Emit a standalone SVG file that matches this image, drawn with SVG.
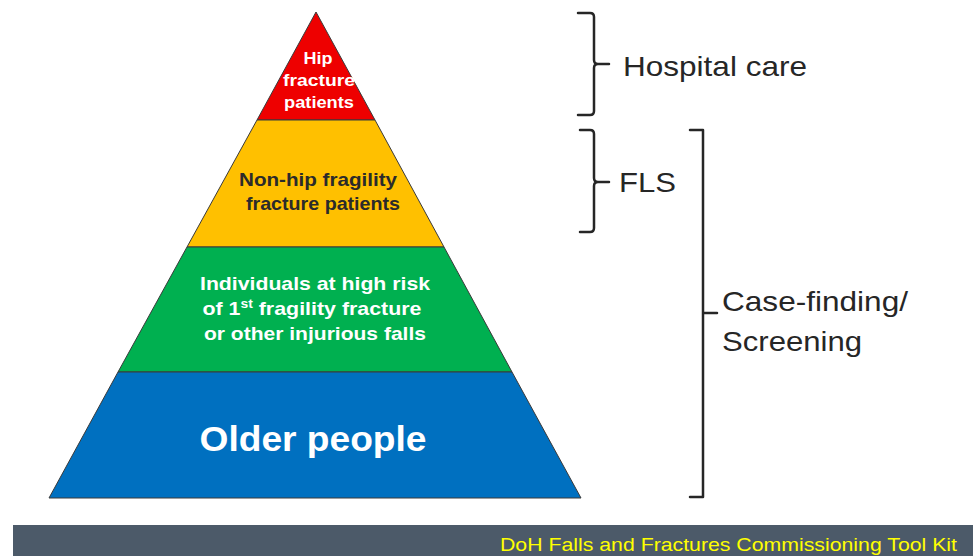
<svg xmlns="http://www.w3.org/2000/svg" width="973" height="556" viewBox="0 0 973 556">
<style>
.tier{stroke:#3a3a3a;stroke-width:1}
.lbl{font-family:"Liberation Sans",Arial,sans-serif;font-weight:bold;text-anchor:middle}
.w{fill:#ffffff}
.d{fill:#2b2b2b}
.br{fill:none;stroke:#262626;stroke-width:2.5;stroke-linejoin:round;stroke-linecap:round}
.side{font-family:"Liberation Sans",Arial,sans-serif;font-size:28px;fill:#262626}
</style>
<rect width="973" height="556" fill="#ffffff"/>
<g id="tier-hip">
<polygon class="tier" points="316,12 375,120 257,120" fill="#ee0000"/>
<text class="lbl w" font-size="17" x="318" y="64" textLength="29" lengthAdjust="spacingAndGlyphs">Hip</text>
<text class="lbl w" font-size="17" x="319" y="86" textLength="72" lengthAdjust="spacingAndGlyphs">fracture</text>
<text class="lbl w" font-size="17" x="319" y="108" textLength="70" lengthAdjust="spacingAndGlyphs">patients</text>
</g>
<g id="tier-nonhip">
<polygon class="tier" points="257,120 375,120 444,247 187,247" fill="#ffc000"/>
<text class="lbl d" font-size="18.5" x="318" y="186" textLength="158" lengthAdjust="spacingAndGlyphs">Non-hip fragility</text>
<text class="lbl d" font-size="18.5" x="323" y="210" textLength="154" lengthAdjust="spacingAndGlyphs">fracture patients</text>
</g>
<g id="tier-risk">
<polygon class="tier" points="187,247 444,247 512,372 118,372" fill="#00b050"/>
<text class="lbl w" font-size="18.5" x="315" y="290" textLength="230" lengthAdjust="spacingAndGlyphs">Individuals at high risk</text>
<text class="lbl w" font-size="18.5" x="312" y="315" textLength="219" lengthAdjust="spacingAndGlyphs">of 1<tspan font-size="12" dy="-7">st</tspan><tspan dy="7"> fragility  fracture</tspan></text>
<text class="lbl w" font-size="18.5" x="315" y="340" textLength="222" lengthAdjust="spacingAndGlyphs">or other injurious falls</text>
</g>
<g id="tier-older">
<polygon class="tier" points="118,372 512,372 581,498 49,498" fill="#0070c0"/>
<text class="lbl w" font-size="35" x="313" y="451" textLength="227" lengthAdjust="spacingAndGlyphs">Older people</text>
</g>
<g id="connectors">
<path class="br" d="M578,13 H590 Q594,13 594,17 V60 Q594,64 598,64 H609 M598,64 Q594,64 594,68 V111 Q594,115 590,115 H578"/>
<path class="br" d="M580,130 H590 Q594,130 594,134 V178 Q594,182 598,182 H609 M598,182 Q594,182 594,186 V228 Q594,232 590,232 H580"/>
<path class="br" d="M690,130 H703 V497 H690 M703,313 H717"/>
</g>
<g id="label-hospital"><text class="side" x="623" y="76" textLength="184" lengthAdjust="spacingAndGlyphs">Hospital  care</text></g>
<g id="label-fls"><text class="side" x="619" y="192" textLength="57" lengthAdjust="spacingAndGlyphs">FLS</text></g>
<g id="label-case">
<text class="side" x="722" y="311" textLength="186" lengthAdjust="spacingAndGlyphs">Case-finding/</text>
<text class="side" x="722" y="351" textLength="140" lengthAdjust="spacingAndGlyphs">Screening</text>
</g>
<g id="footer">
<rect x="13" y="525" width="960" height="31" fill="#4c5a69"/>
<text x="957" y="551" font-family="Liberation Sans Narrow,Liberation Sans,Arial,sans-serif" font-size="19" fill="#ffff00" text-anchor="end" textLength="457" lengthAdjust="spacingAndGlyphs">DoH Falls and Fractures Commissioning Tool Kit</text>
</g>
</svg>
